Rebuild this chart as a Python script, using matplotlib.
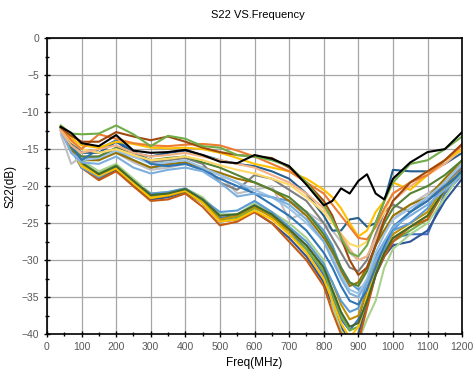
import matplotlib
matplotlib.use("Agg")
import matplotlib.pyplot as plt
from matplotlib.ticker import MultipleLocator

plt.rcParams['font.family'] = ['Liberation Sans', 'DejaVu Sans']

freq = [40, 70, 100, 150, 200,
        250, 300, 350, 400, 450, 500,
        550, 600, 650, 700, 750, 800,
        825, 850, 875, 900, 925, 950,
        975, 1000, 1050, 1100, 1150, 1200]

# lower band
l1 = [-12, -14.5, -17, -18.5, -17.5, -19.5, -21.3, -21, -20.5, -22, -24.3, -24, -22.5, -24, -26, -28.5, -32, -35, -38, -39.5, -38, -34, -30.5, -28.5, -27, -26.5, -26.5, -21, -18.5]
l2 = [-12, -14.8, -17.5, -19, -17.8, -20, -21.8, -21.5, -20.8, -22.3, -24.8, -24.5, -23.5, -25, -27, -29.5, -33, -36, -39, -41, -40, -36, -32, -29.5, -28, -27.5, -26, -22, -19]
l3 = [-12, -14, -16.5, -18, -17, -19, -21, -20.8, -20.3, -21.5, -23.8, -23.8, -22.3, -23.5, -25, -27, -30, -36, -39.5, -41, -41, -38, -35.5, -31, -28.5, -26.5, -25, -21.5, -18]
l4 = [-12.2, -14.5, -17, -18.3, -17.2, -19.3, -21.5, -21.2, -20.5, -22, -24.5, -24.3, -23, -24, -26.5, -28.5, -31.5, -34.5, -37.5, -39.5, -39, -35.5, -31.5, -29, -27.5, -26, -24.5, -20.5, -18]
l5 = [-12, -15, -17.5, -19.2, -18, -20, -22, -21.8, -21, -22.8, -25.3, -24.8, -23.5, -25, -27.5, -30, -33.5, -37, -40, -41.5, -41, -36.5, -32, -29.5, -27.5, -25.5, -24.5, -20.5, -17.5]
l6 = [-12, -14.5, -17.2, -18.8, -17.6, -19.6, -21.6, -21.3, -20.7, -22.2, -24.5, -24, -22.8, -24.2, -26, -28, -31, -33, -36, -38, -37.5, -34, -30.5, -28, -26.5, -25, -23.5, -20, -17.5]
l7 = [-12.3, -15, -17.5, -18.8, -17.5, -19.5, -21, -20.8, -20.3, -21.8, -23.5, -23.3, -22, -23.5, -25.5, -27.5, -30.5, -33, -35.5, -37, -36.5, -33, -29.5, -27.5, -26, -25, -23, -19.5, -17]
l8 = [-12, -14.8, -17.3, -18.6, -17.6, -19.6, -21.6, -21.2, -20.6, -22.3, -24.8, -24.5, -23.3, -24.5, -26.5, -29, -32.5, -35.5, -38.5, -40.5, -39, -35, -31, -28.5, -27, -25.5, -24, -20.5, -17.5]
l9 = [-12, -14.3, -16.8, -18.4, -17.3, -19.3, -21.2, -21, -20.4, -21.8, -24, -23.8, -22.6, -23.8, -25.8, -28, -31, -34, -37, -39, -38.5, -35.5, -32, -29, -27, -25.5, -24, -20.5, -17.8]

# middle band
m1 = [-12, -15, -16, -16.5, -15.2, -16.5, -17.5, -17.2, -16.8, -17.5, -18.5, -19.5, -21, -21.5, -22, -23.5, -26, -28, -31, -33, -34, -33, -30, -28.5, -26, -23.5, -21.5, -19.5, -17]
m2 = [-13, -17, -16, -16, -15.5, -16.8, -17.8, -17.5, -17, -17.8, -18.5, -21, -20.5, -20, -24.5, -23.5, -25, -26, -27.5, -29, -30, -29.5, -27.5, -26, -24.5, -22.5, -21, -19.5, -17.5]
m3 = [-12.5, -15, -16.5, -16, -15, -16, -16.8, -16.5, -16.2, -17, -19.5, -20.5, -18.5, -19, -20.5, -22, -25, -27, -29, -31, -31.5, -30, -26.5, -23.5, -22.5, -23.5, -22, -19.5, -17.5]
m4 = [-12, -15, -16.5, -16.5, -15.5, -16.5, -17.5, -17, -16.8, -17.5, -18.2, -19, -19.5, -20.5, -22, -24, -27, -29, -31.5, -33.5, -33, -31, -28, -26, -24, -22.5, -21.5, -19, -16.5]
m5 = [-12.3, -15.5, -16.5, -16.2, -15.2, -16, -17, -16.8, -16.5, -17.5, -18.5, -19.5, -20.5, -21.5, -23, -25, -27.5, -29.5, -32, -34, -34.5, -32.5, -29, -26.5, -24.5, -23, -21.5, -19.5, -17]
m6 = [-12, -14.8, -16, -16, -14.8, -15.5, -16.5, -16.2, -16, -16.8, -17.5, -18.5, -19.5, -20.5, -21.5, -23.5, -26.5, -28.5, -31, -33, -33.5, -31.5, -28, -25, -23, -21, -20, -18.5, -16.5]
m7 = [-12, -14.5, -16.5, -15, -13.8, -15.3, -17, -17.3, -17, -17.8, -19, -20, -21, -22.5, -24, -26, -29, -31, -33.5, -35.5, -36, -34, -31, -28, -25.5, -23.5, -22, -20, -18]
m8 = [-12.5, -15.5, -16.8, -17, -16, -17.5, -18.3, -17.8, -17.5, -18, -19.5, -21.4, -21, -21.5, -22.5, -24.5, -27.5, -30, -32.5, -34.5, -35, -33, -30, -27.5, -25.5, -24, -22.5, -20.5, -18.5]

# upper band
u_green = [-11.8, -12.9, -13, -12.9, -11.8, -13, -14.6, -13.2, -13.6, -14.6, -14.8, -15.8, -16, -16.5, -17.3, -19.5, -22.5, -24.5, -27, -29, -29.5, -28, -25, -22, -19.5, -17, -16.5, -15, -13.3]
u_brown = [-12.1, -13.2, -14, -14, -12.7, -13.3, -13.8, -13.3, -14, -14.8, -15.4, -15.8, -16, -16.2, -17.5, -19.5, -22, -24, -27, -30, -32, -31, -28, -24.5, -22, -19.5, -18, -16.5, -14.3]
u_orange = [-12, -13.8, -15, -13, -13.6, -14.2, -14.5, -14.6, -14.4, -14.3, -14.5, -15.2, -16, -17, -18, -19.5, -21, -22.5, -24, -25.5, -27, -27.2, -25.5, -23, -21, -19.5, -18.5, -16.5, -14.5]
u_gold = [-12, -13.5, -14.5, -14.8, -14, -14.3, -14.8, -14.9, -14.8, -15, -15.5, -16.2, -17, -17.5, -18, -19, -20.5, -21.5, -23, -25, -26.8, -26, -23.5, -22, -19.5, -20.5, -18.5, -16.5, -15]
u_lorange = [-12.5, -14.5, -15.5, -15, -14.5, -15.5, -16, -15.8, -15.5, -16, -16.5, -17, -17.5, -18.5, -19.5, -21, -23, -24.5, -26.5, -28.5, -30, -29.5, -27, -24.5, -22, -20, -18.5, -17, -15]
u_lgold = [-12.2, -14, -15, -15.5, -15, -15.8, -16.5, -16.3, -16, -16.5, -17.2, -17.8, -18.3, -19, -19.8, -21.5, -23.5, -25, -26.5, -27.8, -28.2, -27.5, -25.5, -23.5, -21, -19.5, -18, -16.5, -15.2]
u_dblue = [-12, -14, -15.5, -15.5, -14, -15.5, -16, -15.5, -15.2, -15.8, -16.5, -17, -17.3, -18, -19, -21, -24, -26, -26, -24.5, -24.3, -25.5, -25, -22, -17.8, -18, -18, -17, -15.5]
black = [-12, -12.8, -14.2, -14.6, -13.1, -15.2, -15.5, -15.4, -15.1, -15.8, -16.7, -16.9, -15.8, -16.3, -17.3, -19.8, -22.6, -22.0, -20.3, -21.0, -19.3, -18.4, -21.0, -21.8, -19.0, -16.8, -15.4, -15.0, -12.7]

series = [
    (l1, '#4472C4'), (l2, '#2F5597'), (l3, '#A9D18E'), (l4, '#70AD47'),
    (l5, '#C55A11'), (l6, '#BF9000'), (l7, '#5B9BD5'), (l8, '#FFC000'),
    (l9, '#43682B'),
    (m1, '#5B9BD5'), (m2, '#BFBFBF'), (m3, '#7F7F7F'), (m4, '#997300'),
    (m5, '#9DC3E6'), (m6, '#548235'), (m7, '#2E75B6'), (m8, '#7CAFDD'),
    (u_dblue, '#255E91'), (u_lgold, '#FFD966'), (u_lorange, '#F4B183'),
    (u_gold, '#FFC000'), (u_orange, '#ED7D31'), (u_brown, '#9E480E'),
    (u_green, '#70AD47'), (black, '#000000'),
]

fig = plt.figure(figsize=(4.74, 3.81), dpi=100)
ax = fig.add_axes([0.099, 0.123, 0.876, 0.777])

for vals, col in series:
    ax.plot(freq, vals, color=col, lw=1.5, solid_joinstyle='round', clip_on=True)

ax.set_xlim(0, 1200)
ax.set_ylim(-40, 0)
ax.xaxis.set_major_locator(MultipleLocator(100))
ax.xaxis.set_minor_locator(MultipleLocator(50))
ax.yaxis.set_major_locator(MultipleLocator(5))
ax.yaxis.set_minor_locator(MultipleLocator(2.5))
ax.grid(True, which='major', color='#A6A6A6', lw=0.9)
ax.set_axisbelow(True)
for s in ax.spines.values():
    s.set_color('black')
    s.set_linewidth(1.2)
ax.tick_params(which='both', direction='inout', colors='black', labelcolor='#595959', labelsize=7.5)
ax.tick_params(which='major', length=4, width=1)
ax.tick_params(which='minor', length=3, width=1)
ax.set_xlabel('Freq(MHz)', fontsize=8.5, labelpad=4)
ax.set_ylabel('S22(dB)', fontsize=8.5, labelpad=4)
fig.suptitle('S22 VS.Frequency', fontsize=8, y=0.975, x=0.545)

fig.savefig('out.png', dpi=100)
